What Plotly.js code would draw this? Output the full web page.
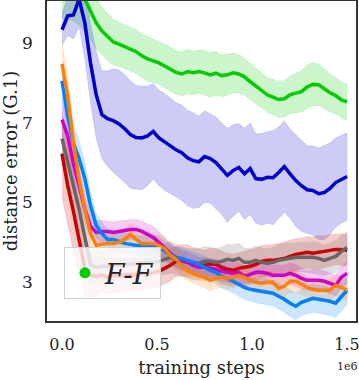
<!DOCTYPE html>
<html>
<head>
<meta charset="utf-8">
<script src="https://cdn.plot.ly/plotly-3.0.1.min.js"></script>
<style>
  body { margin: 0; background: #fff; }
  #myDiv { width: 359px; height: 380px; }
</style>
</head>
<body>
<div id="myDiv"></div>
<script>
// training steps (in units of 1e6)
var steps = [0, 0.03, 0.06, 0.09, 0.12, 0.15, 0.18, 0.21, 0.24, 0.27,
  0.30, 0.33, 0.36, 0.39, 0.42, 0.45, 0.48, 0.51, 0.54, 0.57,
  0.60, 0.63, 0.66, 0.69, 0.72, 0.75, 0.78, 0.81, 0.84, 0.87,
  0.90, 0.93, 0.96, 0.99, 1.02, 1.05, 1.08, 1.11, 1.14, 1.17,
  1.20, 1.23, 1.26, 1.29, 1.32, 1.35, 1.38, 1.41, 1.44, 1.47, 1.50];

// F-F (green)
var ff_mean = [10.8, 10.7, 10.55, 10.35, 10.1, 9.8, 9.5, 9.3, 9.15, 9.02,
  8.97, 8.9, 8.85, 8.78, 8.68, 8.6, 8.55, 8.5, 8.42, 8.35,
  8.26, 8.22, 8.28, 8.25, 8.28, 8.25, 8.2, 8.24, 8.18, 8.2,
  8.25, 8.22, 8.15, 8.03, 7.92, 7.82, 7.7, 7.64, 7.58, 7.6,
  7.7, 7.74, 7.78, 7.9, 7.96, 7.95, 7.85, 7.75, 7.68, 7.57, 7.52];
var ff_std = [1.2, 1.1, 1.0, 0.9, 0.8, 0.7, 0.65, 0.6, 0.6, 0.58,
  0.56, 0.55, 0.55, 0.55, 0.55, 0.56, 0.55, 0.54, 0.55, 0.56,
  0.55, 0.55, 0.56, 0.55, 0.54, 0.56, 0.56, 0.55, 0.53, 0.52,
  0.5, 0.48, 0.46, 0.46, 0.46, 0.45, 0.44, 0.45, 0.45, 0.46,
  0.47, 0.5, 0.52, 0.55, 0.55, 0.52, 0.5, 0.48, 0.46, 0.45, 0.45];

// dark blue
var db_mean = [9.33, 9.68, 9.7, 10.1, 9.5, 8.5, 7.7, 7.2, 7.1, 7.05,
  6.97, 6.85, 6.7, 6.63, 6.62, 6.67, 6.78, 6.62, 6.52, 6.42,
  6.32, 6.25, 6.12, 6.05, 6.02, 6.15, 6.1, 6.0, 5.85, 5.68,
  5.8, 5.88, 5.72, 5.85, 5.6, 5.58, 5.63, 5.62, 5.75, 5.9,
  5.72, 5.55, 5.42, 5.32, 5.3, 5.22, 5.25, 5.35, 5.5, 5.58, 5.65];
var db_std = [0.4, 0.5, 0.6, 0.7, 0.9, 1.0, 1.1, 1.1, 1.2, 1.3,
  1.35, 1.35, 1.35, 1.3, 1.3, 1.25, 1.2, 1.2, 1.22, 1.2,
  1.18, 1.2, 1.2, 1.2, 1.15, 1.15, 1.12, 1.15, 1.15, 1.18,
  1.15, 1.1, 1.15, 1.15, 1.12, 1.15, 1.15, 1.18, 1.15, 1.15,
  1.12, 1.15, 1.15, 1.1, 1.12, 1.15, 1.18, 1.15, 1.12, 1.1, 1.1];

// red
var rd_mean = [6.225, 5.425, 4.775, 4.05, 3.35, 3.175, 3.15, 3.18, 3.13, 3.175,
  3.16, 3.19, 3.2, 3.18, 3.225, 3.21, 3.25, 3.275, 3.35, 3.425,
  3.525, 3.55, 3.525, 3.475, 3.45, 3.425, 3.45, 3.45, 3.375, 3.325,
  3.3, 3.35, 3.375, 3.4, 3.45, 3.525, 3.55, 3.55, 3.575, 3.6,
  3.65, 3.7, 3.725, 3.75, 3.73, 3.75, 3.76, 3.8, 3.825, 3.825, 3.8];
var rd_std = [1.1, 1.0, 1.0, 0.9, 0.7, 0.55, 0.5, 0.45, 0.45, 0.45,
  0.42, 0.4, 0.4, 0.42, 0.4, 0.4, 0.38, 0.4, 0.4, 0.4,
  0.38, 0.4, 0.42, 0.4, 0.4, 0.38, 0.4, 0.4, 0.42, 0.4,
  0.4, 0.38, 0.4, 0.42, 0.4, 0.4, 0.38, 0.4, 0.4, 0.42,
  0.4, 0.4, 0.38, 0.4, 0.4, 0.42, 0.4, 0.4, 0.38, 0.4, 0.4];

// gray
var gy_mean = [6.6, 5.975, 5.425, 4.825, 4.1, 3.45, 3.375, 3.4, 3.4, 3.425,
  3.425, 3.45, 3.45, 3.475, 3.475, 3.5, 3.5, 3.525, 3.575, 3.625,
  3.575, 3.525, 3.5, 3.5, 3.475, 3.525, 3.525, 3.5, 3.525, 3.575,
  3.55, 3.6, 3.5, 3.5, 3.55, 3.5, 3.475, 3.5, 3.55, 3.575,
  3.6, 3.625, 3.625, 3.625, 3.625, 3.6, 3.55, 3.6, 3.65, 3.775, 3.875];
var gy_std = [0.6, 0.6, 0.6, 0.55, 0.5, 0.45, 0.4, 0.4, 0.4, 0.4,
  0.38, 0.36, 0.36, 0.35, 0.35, 0.36, 0.35, 0.36, 0.38, 0.4,
  0.38, 0.36, 0.35, 0.35, 0.36, 0.38, 0.36, 0.35, 0.36, 0.38,
  0.4, 0.38, 0.36, 0.35, 0.36, 0.38, 0.36, 0.38, 0.4, 0.4,
  0.38, 0.36, 0.36, 0.38, 0.4, 0.4, 0.38, 0.38, 0.4, 0.4, 0.4];

// magenta
var mg_mean = [7.075, 6.675, 5.975, 5.4, 4.85, 4.4, 4.25, 4.275, 4.275, 4.25,
  4.275, 4.3, 4.325, 4.325, 4.275, 4.2, 4.125, 4.0, 3.85, 3.725,
  3.625, 3.55, 3.5, 3.425, 3.375, 3.375, 3.35, 3.325, 3.275, 3.25,
  3.225, 3.25, 3.15, 3.2, 3.25, 3.25, 3.225, 3.175, 3.175, 3.175,
  3.225, 3.175, 3.1, 3.05, 3.05, 3.05, 3.025, 2.975, 2.925, 3.125, 3.225];
var mg_std = [0.5, 0.5, 0.45, 0.4, 0.35, 0.3, 0.28, 0.28, 0.27, 0.27,
  0.26, 0.26, 0.25, 0.25, 0.26, 0.27, 0.28, 0.28, 0.27, 0.26,
  0.25, 0.25, 0.26, 0.25, 0.25, 0.24, 0.25, 0.26, 0.25, 0.25,
  0.25, 0.26, 0.25, 0.25, 0.26, 0.27, 0.26, 0.25, 0.25, 0.26,
  0.26, 0.27, 0.26, 0.25, 0.26, 0.27, 0.26, 0.25, 0.26, 0.27, 0.27];

// light blue
var lb_mean = [8.05, 7.15, 6.475, 6.1, 5.6, 4.925, 4.425, 4.225, 4.075, 4.075,
  4.025, 3.975, 3.95, 3.925, 3.925, 3.925, 3.925, 3.9, 3.775, 3.7,
  3.625, 3.6, 3.55, 3.5, 3.45, 3.375, 3.3, 3.25, 3.15, 3.1,
  3.025, 2.95, 2.875, 2.825, 2.8, 2.775, 2.75, 2.725, 2.65, 2.575,
  2.475, 2.4, 2.5, 2.55, 2.6, 2.575, 2.55, 2.525, 2.475, 2.65, 2.8];
var lb_std = [0.5, 0.5, 0.5, 0.45, 0.4, 0.35, 0.3, 0.28, 0.26, 0.25,
  0.25, 0.25, 0.24, 0.25, 0.25, 0.26, 0.25, 0.25, 0.26, 0.25,
  0.25, 0.26, 0.26, 0.27, 0.27, 0.28, 0.28, 0.28, 0.3, 0.3,
  0.3, 0.3, 0.3, 0.3, 0.31, 0.32, 0.32, 0.32, 0.33, 0.33,
  0.34, 0.34, 0.34, 0.35, 0.35, 0.35, 0.36, 0.36, 0.36, 0.36, 0.36];

// orange
var or_mean = [8.475, 7.675, 6.5, 5.55, 4.85, 4.225, 3.925, 3.95, 3.975, 3.975,
  4.0, 4.075, 4.2, 4.075, 3.975, 3.975, 3.975, 3.925, 3.85, 3.675,
  3.575, 3.425, 3.3, 3.225, 3.175, 3.125, 3.05, 3.1, 3.125, 3.1,
  3.125, 3.175, 3.125, 3.05, 3.0, 2.975, 3.0, 3.0, 2.85, 2.9,
  3.025, 3.025, 2.95, 2.875, 2.825, 2.8, 2.8, 2.8, 2.925, 2.875, 2.8];
var or_std = [0.5, 0.5, 0.45, 0.4, 0.35, 0.3, 0.27, 0.26, 0.25, 0.25,
  0.26, 0.27, 0.28, 0.27, 0.26, 0.25, 0.25, 0.26, 0.27, 0.28,
  0.28, 0.27, 0.26, 0.25, 0.25, 0.26, 0.27, 0.26, 0.25, 0.26,
  0.27, 0.28, 0.27, 0.26, 0.26, 0.27, 0.28, 0.27, 0.26, 0.27,
  0.28, 0.28, 0.27, 0.26, 0.27, 0.28, 0.28, 0.27, 0.26, 0.27, 0.28];

var series = [
  {mean: ff_mean, std: ff_std, color: '0,204,0'},
  {mean: db_mean, std: db_std, color: '0,0,204'},
  {mean: rd_mean, std: rd_std, color: '204,0,0'},
  {mean: gy_mean, std: gy_std, color: '102,102,102'},
  {mean: mg_mean, std: mg_std, color: '204,0,204'},
  {mean: lb_mean, std: lb_std, color: '0,128,255'},
  {mean: or_mean, std: or_std, color: '255,128,0'}
];

var data = [];

// shaded bands first
series.forEach(function (s) {
  var up = s.mean.map(function (m, i) { return m + s.std[i]; });
  var lo = s.mean.map(function (m, i) { return m - s.std[i]; });
  data.push({
    x: steps.concat(steps.slice().reverse()),
    y: up.concat(lo.slice().reverse()),
    type: 'scatter',
    mode: 'lines',
    fill: 'toself',
    fillcolor: 'rgba(' + s.color + ',0.2)',
    line: {width: 0.8, color: 'rgba(' + s.color + ',0.12)'},
    hoverinfo: 'skip',
    showlegend: false
  });
});

// mean lines on top
series.forEach(function (s) {
  data.push({
    x: steps,
    y: s.mean,
    type: 'scatter',
    mode: 'lines',
    line: {width: 3.5, color: 'rgb(' + s.color + ')'},
    showlegend: false
  });
});

// legend entry
data.push({
  x: [null],
  y: [null],
  type: 'scatter',
  mode: 'markers',
  marker: {size: 11, color: 'rgb(0,204,0)'},
  name: '<i>F-F</i>',
  showlegend: true
});

var serif = 'DejaVu Serif, serif';

var layout = {
  width: 359,
  height: 380,
  margin: {l: 47, r: 3, t: 1, b: 59},
  paper_bgcolor: '#fff',
  plot_bgcolor: '#fff',
  font: {family: serif, size: 16, color: '#222'},
  xaxis: {
    range: [-0.079, 1.547],
    tickvals: [0, 0.5, 1.0, 1.5],
    ticktext: ['0.0', '0.5', '1.0', '1.5'],
    ticklabeloverflow: 'allow',
    showgrid: false,
    zeroline: false,
    showline: true,
    mirror: true,
    linecolor: '#333',
    linewidth: 1.5,
    ticks: '',
    ticklabelstandoff: 8,
    title: {text: 'training steps', font: {family: serif, size: 18}, standoff: 8}
  },
  yaxis: {
    range: [2.03, 10.05],
    tickvals: [3, 5, 7, 9],
    showgrid: false,
    zeroline: false,
    showline: true,
    mirror: true,
    linecolor: '#333',
    linewidth: 1.5,
    ticks: '',
    ticklabelstandoff: 9,
    tickfont: {family: serif, size: 17},
    title: {text: 'distance error (G.1)', font: {family: serif, size: 18}, standoff: 6}
  },
  legend: {
    x: 0.055,
    y: 0.231,
    xanchor: 'left',
    yanchor: 'top',
    bgcolor: 'rgba(255,255,255,0.8)',
    bordercolor: '#d0d0d0',
    borderwidth: 1,
    font: {family: serif, size: 28, color: '#222'}
  },
  annotations: [{
    text: '1e6',
    xref: 'paper',
    yref: 'paper',
    x: 0.971,
    y: -0.115,
    xanchor: 'center',
    yanchor: 'top',
    showarrow: false,
    font: {family: serif, size: 11, color: '#222'}
  }]
};

Plotly.newPlot('myDiv', data, layout, {displayModeBar: false});
</script>
</body>
</html>
